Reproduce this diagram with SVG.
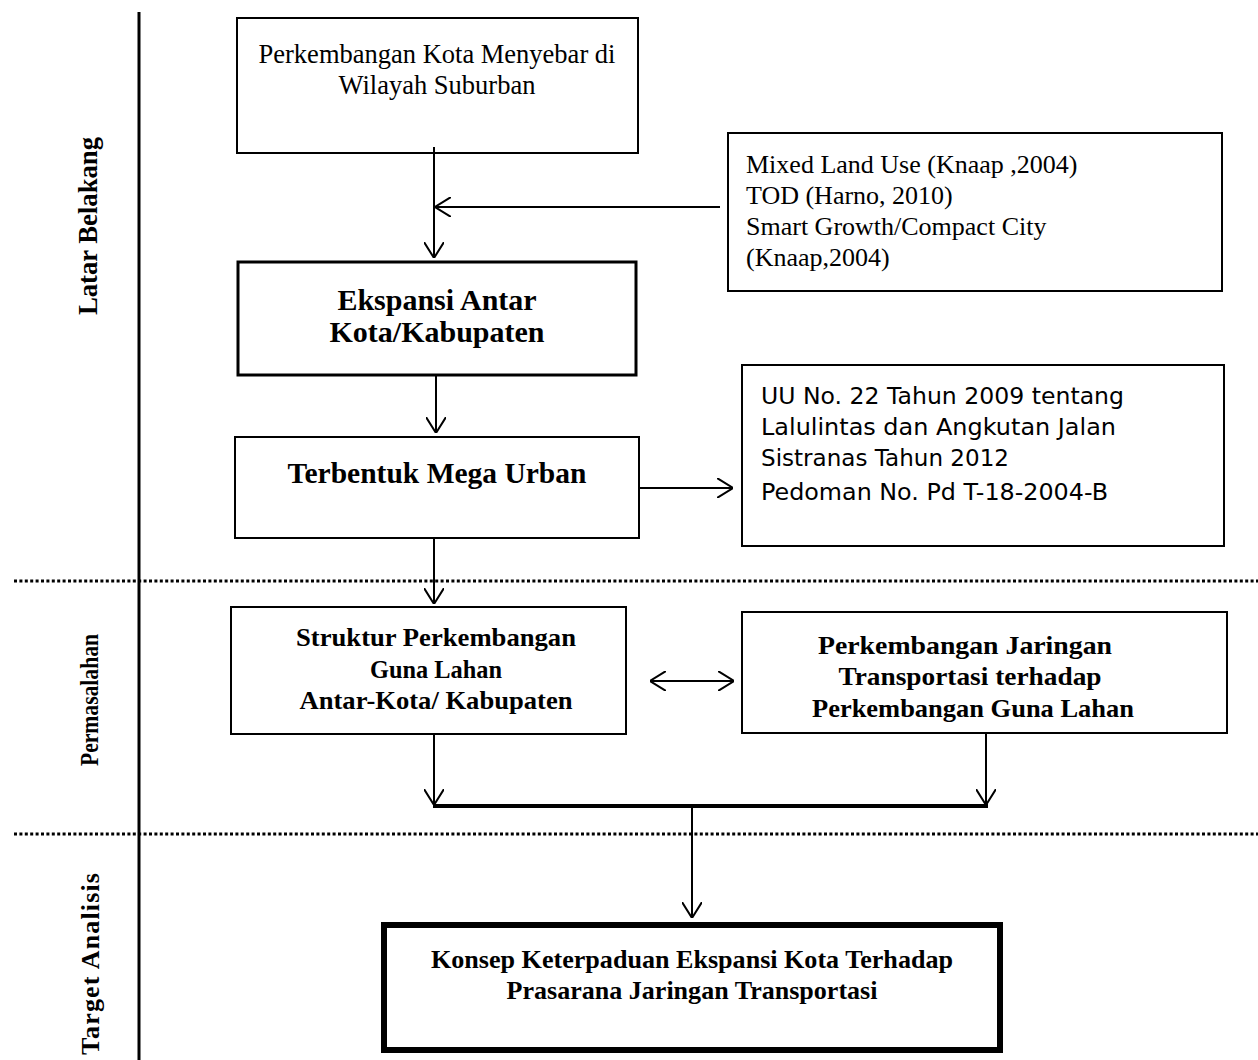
<svg xmlns="http://www.w3.org/2000/svg" width="1258" height="1060" viewBox="0 0 1258 1060">
<style>
.box{fill:#fff;stroke:#000;stroke-width:2}
.tbox{fill:#fff;stroke:#000;stroke-width:3}
.serif{font-family:"Liberation Serif","Times New Roman",serif;fill:#000}
.sans{font-family:"DejaVu Sans","Liberation Sans",sans-serif;fill:#000}
.b{font-weight:bold}
.ln{stroke:#000;stroke-width:2;fill:none}
.dot{stroke:#000;stroke-width:3;stroke-dasharray:3 2.4;fill:none}
</style>
<defs>
<marker id="arr" viewBox="0 0 16 20" refX="16" refY="10" markerWidth="16" markerHeight="20" markerUnits="userSpaceOnUse" orient="auto-start-reverse">
<path d="M0,0 L16,10 L0,20" fill="none" stroke="#000" stroke-width="2"/>
</marker>
</defs>
<g id="axis">
<line x1="139" y1="12" x2="139" y2="1060" stroke="#000" stroke-width="3"/>
<line class="dot" x1="14" y1="581" x2="1258" y2="581"/>
<line class="dot" x1="14" y1="834" x2="1258" y2="834"/>
<text class="serif b" font-size="28" transform="translate(97,226) rotate(-90)" text-anchor="middle" textLength="178" lengthAdjust="spacingAndGlyphs">Latar Belakang</text>
<text class="serif b" font-size="26" transform="translate(98,700) rotate(-90)" text-anchor="middle" textLength="132" lengthAdjust="spacingAndGlyphs">Permasalahan</text>
<text class="serif b" font-size="26" transform="translate(99,964) rotate(-90)" text-anchor="middle" textLength="182" lengthAdjust="spacing">Target Analisis</text>
</g>
<g id="n1">
<rect class="box" x="237" y="18" width="401" height="135"/>
<text class="serif" font-size="26.5" x="437" y="63" text-anchor="middle">Perkembangan Kota Menyebar di</text>
<text class="serif" font-size="26.5" x="437" y="94" text-anchor="middle">Wilayah Suburban</text>
</g>
<g id="n2">
<rect class="box" x="728" y="133" width="494" height="158"/>
<text class="serif" font-size="26" x="746" y="173">Mixed Land Use (Knaap ,2004)</text>
<text class="serif" font-size="26" x="746" y="204">TOD (Harno, 2010)</text>
<text class="serif" font-size="26" x="746" y="235">Smart Growth/Compact City</text>
<text class="serif" font-size="26" x="746" y="266">(Knaap,2004)</text>
</g>
<g id="n3">
<rect class="tbox" x="238" y="262" width="398" height="113"/>
<text class="serif b" font-size="30" x="437" y="310" text-anchor="middle">Ekspansi Antar</text>
<text class="serif b" font-size="30" x="437" y="342" text-anchor="middle">Kota/Kabupaten</text>
</g>
<g id="n4">
<rect class="box" x="235" y="437" width="404" height="101"/>
<text class="serif b" font-size="29.5" x="437" y="483" text-anchor="middle">Terbentuk Mega Urban</text>
</g>
<g id="n5">
<rect class="box" x="742" y="365" width="482" height="181"/>
<text class="sans" font-size="22.5" x="761" y="404" textLength="363" lengthAdjust="spacingAndGlyphs">UU No. 22 Tahun 2009 tentang</text>
<text class="sans" font-size="22.5" x="761" y="435" textLength="355" lengthAdjust="spacingAndGlyphs">Lalulintas dan Angkutan Jalan</text>
<text class="sans" font-size="22.5" x="761" y="466" textLength="248" lengthAdjust="spacingAndGlyphs">Sistranas Tahun 2012</text>
<text class="sans" font-size="22.5" x="761" y="500" textLength="347" lengthAdjust="spacingAndGlyphs">Pedoman No. Pd T-18-2004-B</text>
</g>
<g id="n6">
<rect class="box" x="231" y="607" width="395" height="127"/>
<text class="serif b" font-size="25" x="436" y="646" text-anchor="middle" textLength="280" lengthAdjust="spacingAndGlyphs">Struktur Perkembangan</text>
<text class="serif b" font-size="25" x="436" y="678" text-anchor="middle" textLength="132" lengthAdjust="spacingAndGlyphs">Guna Lahan</text>
<text class="serif b" font-size="25" x="436" y="709" text-anchor="middle" textLength="273" lengthAdjust="spacingAndGlyphs">Antar-Kota/ Kabupaten</text>
</g>
<g id="n7">
<rect class="box" x="742" y="612" width="485" height="121"/>
<text class="serif b" font-size="25" x="965" y="654" text-anchor="middle" textLength="294" lengthAdjust="spacingAndGlyphs">Perkembangan Jaringan</text>
<text class="serif b" font-size="25" x="970" y="685" text-anchor="middle" textLength="263" lengthAdjust="spacingAndGlyphs">Transportasi terhadap</text>
<text class="serif b" font-size="25" x="973" y="717" text-anchor="middle" textLength="322" lengthAdjust="spacingAndGlyphs">Perkembangan Guna Lahan</text>
</g>
<g id="n8">
<rect x="384" y="925" width="616" height="125" fill="#fff" stroke="#000" stroke-width="6"/>
<text class="serif b" font-size="25" x="692" y="968" text-anchor="middle" textLength="522" lengthAdjust="spacingAndGlyphs">Konsep Keterpaduan Ekspansi Kota Terhadap</text>
<text class="serif b" font-size="25" x="692" y="999" text-anchor="middle" textLength="371" lengthAdjust="spacingAndGlyphs">Prasarana Jaringan Transportasi</text>
</g>
<g id="connectors">
<line class="ln" x1="434" y1="147" x2="434" y2="258" marker-end="url(#arr)"/>
<line class="ln" x1="720" y1="207" x2="435" y2="207" marker-end="url(#arr)"/>
<line class="ln" x1="436" y1="376" x2="436" y2="433" marker-end="url(#arr)"/>
<line class="ln" x1="639" y1="488" x2="733" y2="488" marker-end="url(#arr)"/>
<line class="ln" x1="434" y1="538" x2="434" y2="604" marker-end="url(#arr)"/>
<line class="ln" x1="650" y1="681" x2="734" y2="681" marker-start="url(#arr)" marker-end="url(#arr)"/>
<line class="ln" x1="434" y1="734" x2="434" y2="805" marker-end="url(#arr)"/>
<line class="ln" x1="986" y1="733" x2="986" y2="805" marker-end="url(#arr)"/>
<line x1="433" y1="806" x2="988" y2="806" stroke="#000" stroke-width="4"/>
<line class="ln" x1="692" y1="806" x2="692" y2="918" marker-end="url(#arr)"/>
</g>
</svg>
